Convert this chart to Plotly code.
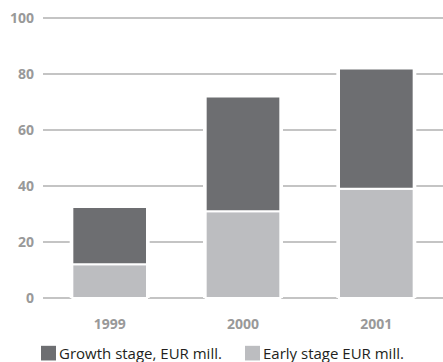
import plotly.graph_objects as go

# Venture investments by stage (EUR million)
years = ["1999", "2000", "2001"]
early_stage = [12, 31, 39]
growth_stage = [20.5, 41, 43]
series_names = ["Growth stage, EUR mill.", "Early stage EUR mill."]
y_ticks = [0, 20, 40, 60, 80, 100]

GROWTH_COLOR = "#6d6e71"
EARLY_COLOR = "#bcbdc0"
GRID_COLOR = "#c4c4c4"
TICK_COLOR = "#999999"

totals = [e + g for e, g in zip(early_stage, growth_stage)]

fig = go.Figure()

# white backdrop so gridlines break cleanly around each column
fig.add_trace(go.Bar(
    x=years, y=totals, width=0.6,
    marker=dict(color="white", line=dict(width=0)),
    showlegend=False, hoverinfo="skip",
))
fig.add_trace(go.Bar(
    x=years, y=early_stage, width=0.56, name=series_names[1],
    marker=dict(color=EARLY_COLOR, line=dict(color="white", width=2)),
    showlegend=False,
))
fig.add_trace(go.Bar(
    x=years, y=growth_stage, base=early_stage, width=0.56, name=series_names[0],
    marker=dict(color=GROWTH_COLOR, line=dict(color="white", width=2)),
    showlegend=False,
))

# custom legend: square swatches with labels beneath the axis
legend_items = [(series_names[0], GROWTH_COLOR, -0.005), (series_names[1], EARLY_COLOR, 0.505)]
for label, color, x0 in legend_items:
    fig.add_shape(type="rect", xref="paper", yref="paper",
                  x0=x0, x1=x0 + 0.0375, y0=-0.218, y1=-0.166,
                  fillcolor=color, line=dict(width=0))
    fig.add_annotation(xref="paper", yref="paper", x=x0 + 0.046, y=-0.192,
                       text=label, showarrow=False, xanchor="left", yanchor="middle",
                       xshift=-2,
                       font=dict(family="Open Sans", size=15, color="#231f20"))

fig.update_layout(
    width=443, height=362,
    margin=dict(l=43, r=0, t=17, b=63),
    paper_bgcolor="white", plot_bgcolor="white",
    barmode="overlay",
    showlegend=False,
    font=dict(family="Open Sans"),
)
fig.update_xaxes(
    range=[-0.5, 2.5], showgrid=False, showline=False, zeroline=False,
    ticks="", ticklabelstandoff=15,
    tickfont=dict(family="Open Sans", size=14, color=TICK_COLOR, weight="bold"),
)
fig.update_yaxes(
    range=[-0.4, 100.4], tickvals=y_ticks, showgrid=True, gridcolor=GRID_COLOR, gridwidth=1.5,
    zeroline=False, showline=False, ticks="", ticklabelstandoff=8,
    tickfont=dict(family="Open Sans", size=14, color=TICK_COLOR, weight="bold"),
)

fig.write_html("out.html")
